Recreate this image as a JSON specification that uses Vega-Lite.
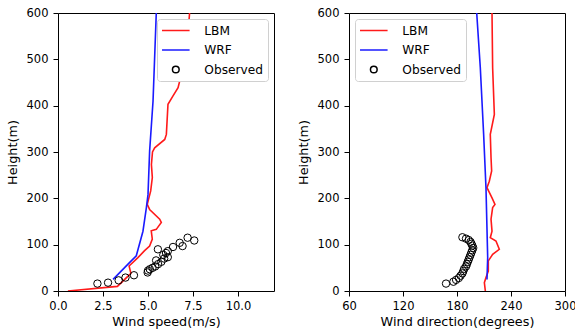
{
  "$schema": "https://vega.github.io/schema/vega-lite/v6.json",
  "padding": {"left": 5, "top": 6, "right": 5, "bottom": 5},
  "config": {
    "font": "DejaVu Sans",
    "view": {"stroke": "#000000", "strokeWidth": 1},
    "axis": {
      "domain": false, "grid": false, "tickColor": "#000000", "tickSize": 5, "tickWidth": 1, "labelFlush": false,
      "labelFont": "DejaVu Sans", "labelFontSize": 11.5, "labelColor": "#000000", "labelPadding": 4,
      "titleFont": "DejaVu Sans", "titleFontSize": 12.8, "titleFontWeight": "normal", "titleColor": "#000000"
    },
    "axisY": {"titlePadding": 7, "labelPadding": 5},
    "axisX": {"titlePadding": 4},
    "legend": {
      "title": null, "fillColor": "white", "strokeColor": "#d0d0d0", "cornerRadius": 3,
      "padding": 5, "offset": 6, "labelFont": "DejaVu Sans", "labelFontSize": 12.2, "labelColor": "#000000",
      "symbolSize": 132, "symbolStrokeWidth": 1.5, "symbolOffset": 7.3, "labelOffset": 22, "rowPadding": 6.5
    }
  },
  "datasets": {
    "speed": [
      {"series": "LBM", "x": 0.55, "h": 0}, {"series": "LBM", "x": 3.3, "h": 10}, {"series": "LBM", "x": 4.05, "h": 38},
      {"series": "LBM", "x": 3.95, "h": 54}, {"series": "LBM", "x": 4.44, "h": 72}, {"series": "LBM", "x": 4.81, "h": 87},
      {"series": "LBM", "x": 5.09, "h": 97}, {"series": "LBM", "x": 5.24, "h": 112}, {"series": "LBM", "x": 5.18, "h": 130},
      {"series": "LBM", "x": 5.46, "h": 133}, {"series": "LBM", "x": 5.74, "h": 148}, {"series": "LBM", "x": 5.65, "h": 155},
      {"series": "LBM", "x": 5.09, "h": 176}, {"series": "LBM", "x": 4.96, "h": 187}, {"series": "LBM", "x": 5.15, "h": 216},
      {"series": "LBM", "x": 5.24, "h": 245}, {"series": "LBM", "x": 5.19, "h": 273}, {"series": "LBM", "x": 5.25, "h": 300},
      {"series": "LBM", "x": 5.37, "h": 309}, {"series": "LBM", "x": 5.93, "h": 327}, {"series": "LBM", "x": 6.02, "h": 338},
      {"series": "LBM", "x": 6.11, "h": 403}, {"series": "LBM", "x": 6.39, "h": 421}, {"series": "LBM", "x": 6.67, "h": 439},
      {"series": "LBM", "x": 6.76, "h": 453}, {"series": "LBM", "x": 7.04, "h": 504}, {"series": "LBM", "x": 7.22, "h": 554},
      {"series": "LBM", "x": 7.31, "h": 600},
      {"series": "WRF", "x": 3.06, "h": 25}, {"series": "WRF", "x": 3.89, "h": 58}, {"series": "WRF", "x": 4.35, "h": 76},
      {"series": "WRF", "x": 4.72, "h": 129}, {"series": "WRF", "x": 4.91, "h": 180}, {"series": "WRF", "x": 5.0, "h": 208},
      {"series": "WRF", "x": 5.09, "h": 302}, {"series": "WRF", "x": 5.28, "h": 410}, {"series": "WRF", "x": 5.46, "h": 600},
      {"series": "Observed", "x": 2.19, "h": 16}, {"series": "Observed", "x": 2.78, "h": 18}, {"series": "Observed", "x": 3.37, "h": 23},
      {"series": "Observed", "x": 3.75, "h": 29}, {"series": "Observed", "x": 4.22, "h": 34}, {"series": "Observed", "x": 4.98, "h": 40},
      {"series": "Observed", "x": 5.0, "h": 44}, {"series": "Observed", "x": 5.1, "h": 47}, {"series": "Observed", "x": 5.25, "h": 50},
      {"series": "Observed", "x": 5.4, "h": 53}, {"series": "Observed", "x": 5.56, "h": 58}, {"series": "Observed", "x": 5.74, "h": 63},
      {"series": "Observed", "x": 5.45, "h": 66}, {"series": "Observed", "x": 5.9, "h": 70}, {"series": "Observed", "x": 6.1, "h": 73},
      {"series": "Observed", "x": 5.85, "h": 78}, {"series": "Observed", "x": 6.0, "h": 82}, {"series": "Observed", "x": 5.55, "h": 90},
      {"series": "Observed", "x": 6.1, "h": 86}, {"series": "Observed", "x": 6.39, "h": 95}, {"series": "Observed", "x": 6.76, "h": 104},
      {"series": "Observed", "x": 6.92, "h": 97}, {"series": "Observed", "x": 7.2, "h": 115}, {"series": "Observed", "x": 7.57, "h": 109}
    ],
    "direction": [
      {"series": "LBM", "x": 211.5, "h": 0}, {"series": "LBM", "x": 210.4, "h": 18}, {"series": "LBM", "x": 212.2, "h": 29},
      {"series": "LBM", "x": 214.8, "h": 43}, {"series": "LBM", "x": 214.8, "h": 65}, {"series": "LBM", "x": 219.6, "h": 79},
      {"series": "LBM", "x": 227, "h": 90}, {"series": "LBM", "x": 223.3, "h": 108}, {"series": "LBM", "x": 217, "h": 115},
      {"series": "LBM", "x": 218.9, "h": 129}, {"series": "LBM", "x": 217.8, "h": 155}, {"series": "LBM", "x": 219.6, "h": 180},
      {"series": "LBM", "x": 222.2, "h": 187}, {"series": "LBM", "x": 218.9, "h": 201}, {"series": "LBM", "x": 213.3, "h": 223},
      {"series": "LBM", "x": 215.9, "h": 237}, {"series": "LBM", "x": 218.5, "h": 259}, {"series": "LBM", "x": 217.8, "h": 288},
      {"series": "LBM", "x": 217, "h": 338}, {"series": "LBM", "x": 221.5, "h": 381}, {"series": "LBM", "x": 219.6, "h": 482},
      {"series": "LBM", "x": 218.9, "h": 600},
      {"series": "WRF", "x": 213.3, "h": 25}, {"series": "WRF", "x": 214.1, "h": 72}, {"series": "WRF", "x": 212.2, "h": 223},
      {"series": "WRF", "x": 209.6, "h": 338}, {"series": "WRF", "x": 205.9, "h": 482}, {"series": "WRF", "x": 201.9, "h": 600},
      {"series": "Observed", "x": 167.8, "h": 16}, {"series": "Observed", "x": 176, "h": 20}, {"series": "Observed", "x": 179, "h": 24},
      {"series": "Observed", "x": 182, "h": 28}, {"series": "Observed", "x": 184, "h": 33}, {"series": "Observed", "x": 186, "h": 38},
      {"series": "Observed", "x": 187, "h": 43}, {"series": "Observed", "x": 188, "h": 48}, {"series": "Observed", "x": 190, "h": 53},
      {"series": "Observed", "x": 191, "h": 58}, {"series": "Observed", "x": 192, "h": 63}, {"series": "Observed", "x": 193, "h": 68},
      {"series": "Observed", "x": 194, "h": 73}, {"series": "Observed", "x": 195, "h": 78}, {"series": "Observed", "x": 196, "h": 83},
      {"series": "Observed", "x": 197, "h": 88}, {"series": "Observed", "x": 198, "h": 93}, {"series": "Observed", "x": 197, "h": 98},
      {"series": "Observed", "x": 196, "h": 102}, {"series": "Observed", "x": 195, "h": 106}, {"series": "Observed", "x": 193, "h": 110},
      {"series": "Observed", "x": 190, "h": 113}, {"series": "Observed", "x": 186, "h": 116}
    ]
  },
  "spacing": 21,
  "resolve": {"scale": {"color": "independent"}, "legend": {"color": "independent"}},
  "hconcat": [
    {
      "width": 216, "height": 278,
      "data": {"name": "speed"},
      "layer": [
        {
          "transform": [{"filter": "datum.series !== 'Observed'"}],
          "mark": {"type": "line", "strokeWidth": 1.6, "clip": true},
          "encoding": {
            "x": {"field": "x", "type": "quantitative", "scale": {"domain": [0, 12], "nice": false, "zero": false},
                  "axis": {"title": "Wind speed(m/s)", "values": [0, 2.5, 5, 7.5, 10], "format": ".1f"}},
            "y": {"field": "h", "type": "quantitative", "scale": {"domain": [0, 600], "nice": false},
                  "axis": {"title": "Height(m)", "values": [0, 100, 200, 300, 400, 500, 600]}},
            "order": {"field": "h", "type": "quantitative"},
            "color": {"field": "series", "type": "nominal",
                      "scale": {"domain": ["LBM", "WRF", "Observed"], "range": ["#ff1a1a", "#1a1aff", "#000000"]},
                      "legend": {"orient": "top-right",
                        "encode": {"symbols": {"update": {
                          "shape": {"signal": "datum.value === 'Observed' ? 'M0.58,0A0.58,0.58,0,1,1,-0.58,0A0.58,0.58,0,1,1,0.58,0Z' : 'M-2.4,0H2.4'"},
                          "fill": {"value": "transparent"}}}}}}
          }
        },
        {
          "transform": [{"filter": "datum.series === 'Observed'"}],
          "mark": {"type": "point", "shape": "circle", "filled": false, "size": 55, "strokeWidth": 1, "opacity": 1},
          "encoding": {
            "x": {"field": "x", "type": "quantitative"},
            "y": {"field": "h", "type": "quantitative"},
            "color": {"field": "series", "type": "nominal"}
          }
        }
      ]
    },
    {
      "width": 216, "height": 278,
      "data": {"name": "direction"},
      "layer": [
        {
          "transform": [{"filter": "datum.series !== 'Observed'"}],
          "mark": {"type": "line", "strokeWidth": 1.6, "clip": true},
          "encoding": {
            "x": {"field": "x", "type": "quantitative", "scale": {"domain": [60, 300], "nice": false, "zero": false},
                  "axis": {"title": "Wind direction(degrees)", "values": [60, 120, 180, 240, 300]}},
            "y": {"field": "h", "type": "quantitative", "scale": {"domain": [0, 600], "nice": false},
                  "axis": {"title": "Height(m)", "values": [0, 100, 200, 300, 400, 500, 600]}},
            "order": {"field": "h", "type": "quantitative"},
            "color": {"field": "series", "type": "nominal",
                      "scale": {"domain": ["LBM", "WRF", "Observed"], "range": ["#ff1a1a", "#1a1aff", "#000000"]},
                      "legend": {"orient": "top-left",
                        "encode": {"symbols": {"update": {
                          "shape": {"signal": "datum.value === 'Observed' ? 'M0.58,0A0.58,0.58,0,1,1,-0.58,0A0.58,0.58,0,1,1,0.58,0Z' : 'M-2.4,0H2.4'"},
                          "fill": {"value": "transparent"}}}}}}
          }
        },
        {
          "transform": [{"filter": "datum.series === 'Observed'"}],
          "mark": {"type": "point", "shape": "circle", "filled": false, "size": 55, "strokeWidth": 1, "opacity": 1},
          "encoding": {
            "x": {"field": "x", "type": "quantitative"},
            "y": {"field": "h", "type": "quantitative"},
            "color": {"field": "series", "type": "nominal"}
          }
        }
      ]
    }
  ]
}
